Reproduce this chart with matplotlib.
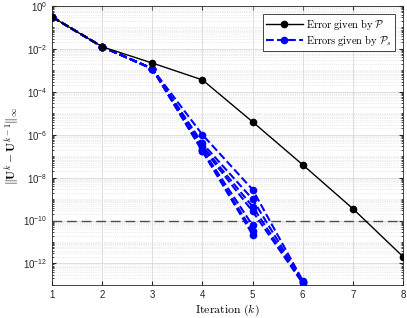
import numpy as np
import matplotlib.pyplot as plt
from matplotlib.ticker import LogLocator, NullFormatter

plt.rcParams['mathtext.fontset'] = 'cm'
plt.rcParams['font.family'] = ['Liberation Sans', 'DejaVu Sans']

# iterations
k = np.arange(1, 9)
# error given by P
err_p = [3.1e-1, 1.26e-2, 2.2e-3, 3.6e-4, 4.0e-6, 4.0e-8, 3.6e-10, 2.1e-12]

# errors given by P_s (one list per subdomain run)
k_s = [1, 2, 3, 4, 5, 6]
start = [3.1e-1, 1.26e-2, 1.2e-3]
err_s = [
    start + [1.0e-6, 2.8e-9, 1.6e-13],
    start + [4.0e-7, 1.0e-9, 1.4e-13],
    start + [3.0e-7, 4.5e-10, 1.3e-13],
    start + [2.5e-7, 2.7e-10, 1.2e-13],
    start + [2.0e-7, 6.0e-11],
    start + [1.8e-7, 3.2e-11],
    start + [1.7e-7, 2.2e-11],
]
tol = 1e-10

fig = plt.figure(figsize=(4.07, 3.18), dpi=100)
ax = fig.add_axes([0.128, 0.104, 0.862, 0.877])

ax.axhline(tol, color='0.3', ls=(0, (7, 3.5)), lw=1.0, zorder=2.5)

for i, e in enumerate(err_s):
    ax.plot(k_s[:len(e)], e, color='blue', ls='--', lw=1.5, marker='o', ms=4.5,
            label=r'$\mathrm{Errors\ given\ by}\ \mathcal{P}_s$' if i == 0 else None,
            zorder=3)
ax.plot(k, err_p, color='black', lw=1.0, marker='o', ms=4.5,
        label=r'$\mathrm{Error\ given\ by}\ \mathcal{P}$', zorder=4)

ax.set_yscale('log')
ax.set_xlim(1, 8)
ax.set_ylim(1e-13, 1)
ax.set_xticks(k)
ax.set_yticks([10.0**p for p in range(-12, 1, 2)])
ax.yaxis.set_minor_locator(LogLocator(base=10, subs=np.arange(1, 10), numticks=30))
ax.yaxis.set_minor_formatter(NullFormatter())

ax.grid(True, which='major', color='0.85', lw=0.6)
ax.grid(True, which='minor', color='0.85', lw=0.5, ls=':')
ax.tick_params(which='both', direction='in', top=True, right=True, labelsize=7,
               colors='0.15')
ax.tick_params(which='major', length=3)
ax.tick_params(which='minor', length=1.5)
for s in ax.spines.values():
    s.set_color('0.15')
    s.set_linewidth(0.6)

ax.set_xlabel(r'$\mathrm{Iteration}\ (k)$', fontsize=8.5, labelpad=2)
ax.set_ylabel(r'$\|\mathbf{U}^k-\mathbf{U}^{k-1}\|_\infty$', fontsize=8.5, labelpad=1)

h, l = ax.get_legend_handles_labels()
leg = ax.legend(h[::-1], l[::-1], loc='upper right', fontsize=7.5, fancybox=False,
                framealpha=1, edgecolor='0.15', borderaxespad=0.8,
                handlelength=3.5, handletextpad=0.3, borderpad=0.3, labelspacing=0.2)
leg.get_frame().set_linewidth(0.6)

fig.savefig('out.png', dpi=100)
